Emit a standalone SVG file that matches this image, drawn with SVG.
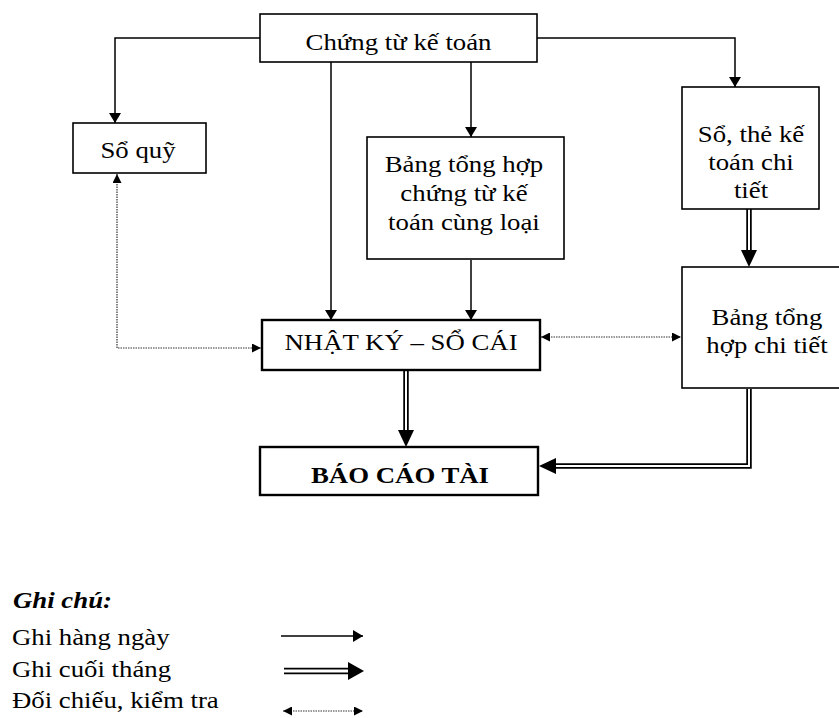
<svg xmlns="http://www.w3.org/2000/svg" width="839" height="718" viewBox="0 0 839 718">
<style>
.box{fill:#fff;stroke:#000;stroke-width:1.6}
.bbox{fill:#fff;stroke:#000;stroke-width:2.4}
.t{font-family:"Liberation Serif","Times New Roman",serif;font-size:23.5px;fill:#000;text-anchor:middle}
.tl{font-family:"Liberation Serif","Times New Roman",serif;font-size:23.5px;fill:#000}
.b{font-weight:bold}
.bi{font-weight:bold;font-style:italic}
.ln{fill:none;stroke:#000;stroke-width:1.5}
.dbl{fill:none;stroke:#000;stroke-width:5.5;stroke-linejoin:miter}
.dbw{fill:none;stroke:#fff;stroke-width:2;stroke-linejoin:miter}
.dot{fill:none;stroke:#333;stroke-width:1.2;stroke-dasharray:1.5 1}
</style>
<defs>
<marker id="ar" viewBox="0 0 10 12" refX="10" refY="6" markerWidth="10" markerHeight="12" markerUnits="userSpaceOnUse" orient="auto"><path d="M0,0 L10,6 L0,12 z" fill="#000"/></marker>
<marker id="ard" viewBox="0 0 9 9" refX="9" refY="4.5" markerWidth="9" markerHeight="9" markerUnits="userSpaceOnUse" orient="auto-start-reverse"><path d="M0,0 L9,4.5 L0,9 z" fill="#000"/></marker>
<marker id="arb" viewBox="0 0 17 16" refX="0" refY="8" markerWidth="17" markerHeight="16" markerUnits="userSpaceOnUse" orient="auto"><path d="M0,0 L17,8 L0,16 z" fill="#000"/></marker>
<marker id="arl" viewBox="0 0 16 18" refX="0" refY="9" markerWidth="16" markerHeight="18" markerUnits="userSpaceOnUse" orient="auto"><path d="M0,0 L16,9 L0,18 z" fill="#000"/></marker>
</defs>
<rect width="839" height="718" fill="#fff"/>

<g id="connectors">
<path class="ln" d="M260,38 H115 V123" marker-end="url(#ar)"/>
<path class="ln" d="M331,62 V320" marker-end="url(#ar)"/>
<path class="ln" d="M471,62 V137" marker-end="url(#ar)"/>
<path class="ln" d="M537,38 H735 V87" marker-end="url(#ar)"/>
<path class="ln" d="M471,260 V320" marker-end="url(#ar)"/>
<path class="dbl" d="M749,209 V250" marker-end="url(#arb)"/>
<path class="dbw" d="M749,209 V250"/>
<path class="dbl" d="M406,371 V430" marker-end="url(#arb)"/>
<path class="dbw" d="M406,371 V430"/>
<path class="dbl" d="M749,389 V466 H556" marker-end="url(#arb)"/>
<path class="dbw" d="M749,389 V466 H556"/>
<path class="dot" d="M117,174 V348 H261" marker-start="url(#ard)" marker-end="url(#ard)"/>
<path class="dot" d="M541,337 H681" marker-start="url(#ard)" marker-end="url(#ard)"/>
</g>

<g id="chung-tu">
<rect class="box" x="260" y="14" width="277" height="48"/>
<text class="t" transform="scale(1.14,1)" x="349.6" y="50">Chứng từ kế toán</text>
</g>
<g id="so-quy">
<rect class="box" x="73" y="123" width="133" height="50"/>
<text class="t" transform="scale(1.14,1)" x="121.1" y="158">Sổ quỹ</text>
</g>
<g id="bang-tong-hop-chung-tu">
<rect class="box" x="367" y="137" width="197" height="122"/>
<text class="t" transform="scale(1.14,1)"><tspan x="407" y="172">Bảng tổng hợp</tspan><tspan x="407" y="201">chứng từ kế</tspan><tspan x="407" y="230">toán cùng loại</tspan></text>
</g>
<g id="so-the">
<rect class="box" x="682" y="87" width="137" height="122"/>
<text class="t" transform="scale(1.14,1)"><tspan x="658.8" y="142">Sổ, thẻ kế</tspan><tspan x="658.8" y="170">toán chi</tspan><tspan x="658.8" y="198">tiết</tspan></text>
</g>
<g id="bang-chi-tiet">
<rect class="box" x="682" y="267" width="170" height="121"/>
<text class="t" transform="scale(1.14,1)"><tspan x="672.8" y="325">Bảng tổng</tspan><tspan x="672.8" y="353">hợp chi tiết</tspan></text>
</g>
<g id="nhat-ky">
<rect class="bbox" x="262" y="320" width="278" height="50"/>
<text class="t" transform="scale(1.14,1)" x="351.8" y="350">NHẬT KÝ – SỔ CÁI</text>
</g>
<g id="bao-cao">
<rect class="bbox" x="260" y="447" width="278" height="48"/>
<text class="t b" transform="scale(1.14,1)" x="350.9" y="483">BÁO CÁO TÀI</text>
</g>

<g id="legend">
<text class="tl bi" transform="scale(1.14,1)" x="11.4" y="608">Ghi chú:</text>
<text class="tl" transform="scale(1.14,1)" x="10.5" y="645">Ghi hàng ngày</text>
<text class="tl" transform="scale(1.14,1)" x="10.5" y="677">Ghi cuối tháng</text>
<text class="tl" transform="scale(1.14,1)" x="10.5" y="708">Đối chiếu, kiểm tra</text>
<path class="ln" d="M281,636 H363" marker-end="url(#ar)"/>
<path class="dbl" d="M284,671 H348" style="stroke-width:6.5" marker-end="url(#arl)"/>
<path class="dbw" d="M284,671 H348" style="stroke-width:2.8"/>
<path class="dot" d="M283,711 H363" marker-start="url(#ard)" marker-end="url(#ard)"/>
</g>
</svg>
